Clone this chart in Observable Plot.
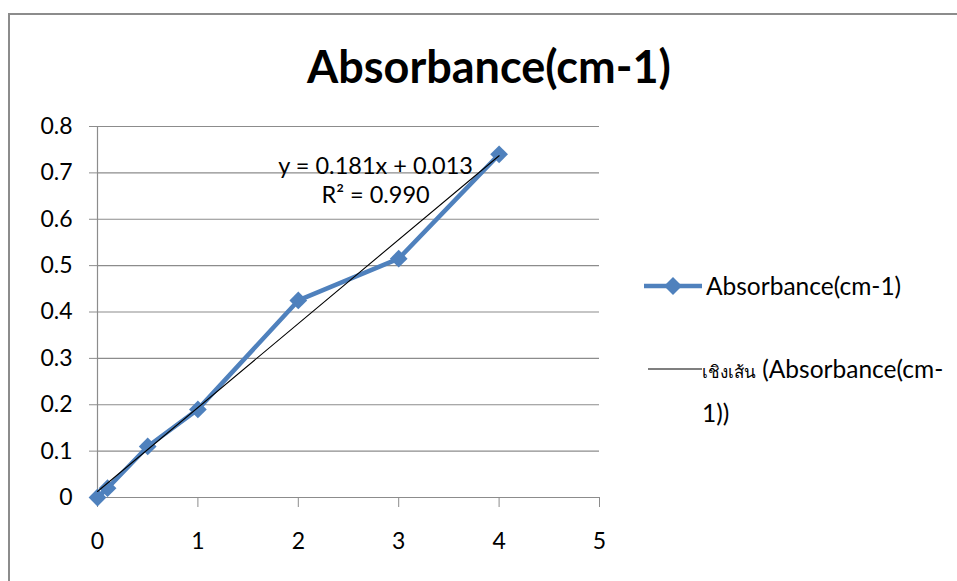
<!DOCTYPE html>
<html>
<head>
<meta charset="utf-8">
<script src="https://cdn.jsdelivr.net/npm/d3@7"></script>
<script src="https://cdn.jsdelivr.net/npm/@observablehq/plot@0.6"></script>
<style>
  html, body { margin: 0; padding: 0; background: #fff; }
  #wrap { position: relative; width: 957px; height: 581px; overflow: hidden; background: #fff; font-family: Lato, "Open Sans", sans-serif; }
  #frame { position: absolute; left: 8px; top: 13px; width: 980px; height: 600px; border-top: 2px solid #8c8c8c; border-left: 2px solid #8c8c8c; box-sizing: border-box; }
  #title { position: absolute; left: 0; top: 0; width: 978px; height: 100px; text-align: center; line-height: 132px; font-weight: bold; font-size: 45px; color: #000; }
  #chart { position: absolute; left: 0; top: 100px; }
  .leg { position: absolute; font-size: 24.5px; color: #000; line-height: 41px; white-space: nowrap; }
  .th { font-size: 17px; }
</style>
</head>
<body>
<div id="wrap">
  <div id="frame"></div>
  <div id="title"></div>
  <div id="chart"></div>
  <div id="legend"></div>
</div>
<script>
// ---- data ----
const concentration = [0, 0.1, 0.5, 1, 2, 3, 4];
const absorbance = [0, 0.02, 0.11, 0.19, 0.425, 0.515, 0.74];
const seriesName = "Absorbance(cm-1)";
const trendPrefix = "เชิงเส้น";
const trendName = " (Absorbance(cm-";
const trendNameTail = "1))";
const trendSlope = 0.181;
const trendIntercept = 0.013;
const trendRange = [0, 4];
const equationText = "y = 0.181x + 0.013";
const r2Text = "R² = 0.990";
const xTicks = [0, 1, 2, 3, 4, 5];
const yTicks = [0, 0.1, 0.2, 0.3, 0.4, 0.5, 0.6, 0.7, 0.8];

const blue = "#4F81BD";
const grid = "#8c8c8c";

const data = concentration.map((x, i) => ({x, y: absorbance[i]}));
const trend = trendRange.map(x => ({x, y: trendSlope * x + trendIntercept}));

document.getElementById("title").textContent = seriesName;

const chart = Plot.plot({
  width: 957,
  height: 481,
  marginLeft: 97,
  marginRight: 358,
  marginTop: 26,
  marginBottom: 84,
  style: {fontFamily: "Lato, 'Open Sans', sans-serif", fontSize: "23px", background: "transparent", color: "#000", overflow: "visible"},
  x: {domain: [0, 5]},
  y: {domain: [0, 0.8]},
  marks: [
    Plot.ruleY(yTicks, {stroke: grid, strokeWidth: 1.2, strokeOpacity: 1}),
    Plot.ruleX([0], {stroke: grid, strokeWidth: 1.2}),
    Plot.axisY({ticks: yTicks, tickSize: 8, tickPadding: 17, stroke: grid, strokeOpacity: 1, tickFormat: d => String(+d.toFixed(1)), label: null, fill: "#000", fontSize: 23}),
    Plot.axisX({ticks: xTicks, tickSize: 10, tickPadding: 25, stroke: grid, strokeOpacity: 1, tickFormat: d => String(d), label: null, fill: "#000", fontSize: 23}),
    Plot.line(data, {x: "x", y: "y", stroke: blue, strokeWidth: 4.5}),
    Plot.dot(data, {x: "x", y: "y", symbol: "diamond2", r: 8, fill: blue, stroke: "none"}),
    Plot.line(trend, {x: "x", y: "y", stroke: "#000", strokeWidth: 1.1}),
    Plot.text([equationText + "\n" + r2Text], {x: 2.77, y: 0.6857, text: d => d, lineHeight: 1.2, fontSize: 23.5, fill: "#000"})
  ]
});
document.getElementById("chart").appendChild(chart);

// legend (HTML)
const legend = document.getElementById("legend");
legend.innerHTML = `
  <svg style="position:absolute;left:640px;top:270px" width="66" height="32">
    <line x1="4" y1="16" x2="62" y2="16" stroke="${blue}" stroke-width="4.5"/>
    <path d="M33,7 L42,16 L33,25 L24,16 Z" fill="${blue}"/>
  </svg>
  <div class="leg" style="left:706px;top:265px">${seriesName}</div>
  <svg style="position:absolute;left:640px;top:360px" width="66" height="20">
    <line x1="8" y1="9" x2="62" y2="9" stroke="#000" stroke-width="1.1"/>
  </svg>
  <div class="leg" style="left:702px;top:348px"><span class="th">${trendPrefix}</span>${trendName}<br>${trendNameTail}</div>
`;
</script>
</body>
</html>
